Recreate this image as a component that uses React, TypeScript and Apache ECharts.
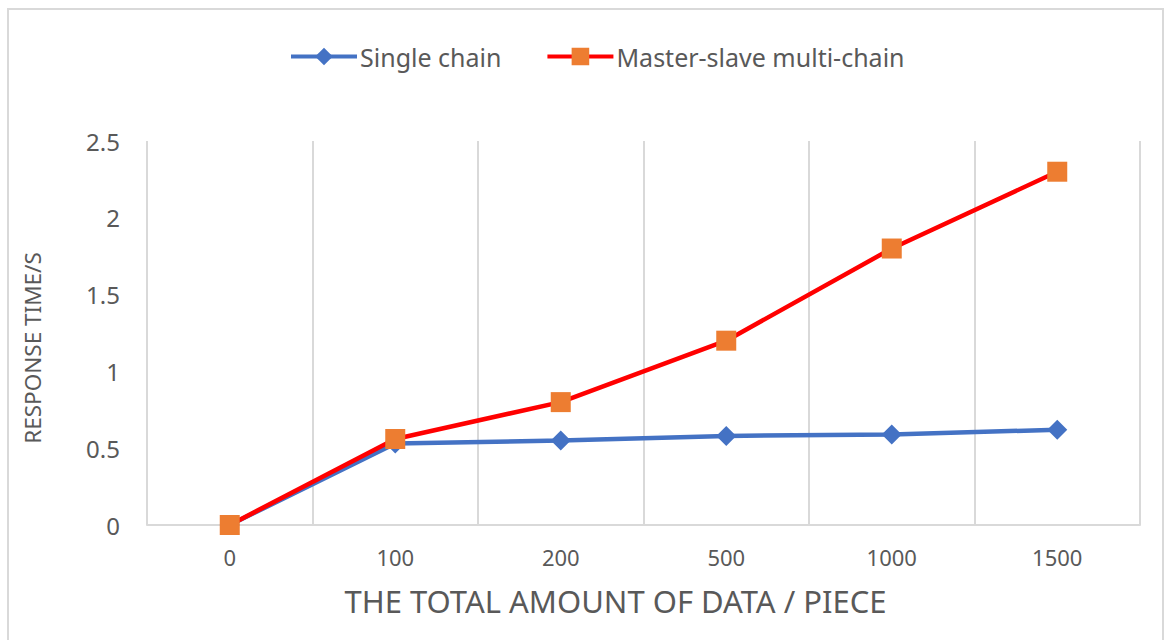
import React, { useEffect, useRef } from "react";
import * as echarts from "echarts";

const categories = ["0", "100", "200", "500", "1000", "1500"];
const singleChain = [0, 0.53, 0.55, 0.58, 0.59, 0.62];
const masterSlave = [0, 0.56, 0.8, 1.2, 1.8, 2.3];
const seriesNames = ["Single chain", "Master-slave multi-chain"];
const xTitle = "THE TOTAL AMOUNT OF DATA / PIECE";
const yTitle = "RESPONSE TIME/S";

const FONT = "'Noto Sans', 'Open Sans', sans-serif";
const TXT = "#595959";

export default function App() {
  const ref = useRef<HTMLDivElement>(null);
  useEffect(() => {
    document.body.style.margin = "0";
    const chart = echarts.init(ref.current!, null, { renderer: "svg" });
    chart.setOption({
      animation: false,
      backgroundColor: "#ffffff",
      textStyle: { fontFamily: FONT, color: TXT },
      graphic: [
        {
          type: "rect",
          shape: { x: 8, y: 9, width: 1155, height: 700 },
          style: { fill: "none", stroke: "#d9d9d9", lineWidth: 2 },
          silent: true,
        },
      ],
      legend: {
        left: 289,
        top: 44,
        padding: 0,
        itemWidth: 66,
        itemHeight: 22,
        itemGap: 44,
        lineStyle: { width: 4 },
        textStyle: { fontFamily: FONT, fontSize: 25, color: TXT, padding: [0, 0, 0, -2] },
        data: seriesNames,
      },
      grid: { left: 147, right: 31, top: 141, bottom: 115, containLabel: false },
      xAxis: {
        type: "category",
        data: categories,
        boundaryGap: true,
        name: xTitle,
        nameLocation: "middle",
        nameGap: 60,
        nameTextStyle: { fontFamily: FONT, fontSize: 31, color: TXT, padding: [0, 56, 0, 0] },
        axisLine: { show: true, lineStyle: { color: "#d9d9d9", width: 2 } },
        axisTick: { show: false },
        axisLabel: { fontFamily: FONT, fontSize: 22, color: TXT, margin: 21 },
        splitLine: { show: true, lineStyle: { color: "#d9d9d9", width: 2 } },
      },
      yAxis: {
        type: "value",
        min: 0,
        max: 2.5,
        interval: 0.5,
        name: yTitle,
        nameLocation: "middle",
        nameGap: 103,
        nameTextStyle: { fontFamily: FONT, fontSize: 22.5, color: TXT, padding: [0, 30, 0, 0] },
        axisLine: { show: false },
        axisTick: { show: false },
        splitLine: { show: false },
        axisLabel: { fontFamily: FONT, fontSize: 24, color: TXT, margin: 27 },
      },
      series: [
        {
          name: seriesNames[0],
          type: "line",
          data: singleChain,
          symbol: "diamond",
          symbolSize: 20,
          lineStyle: { color: "#4472C4", width: 4.5 },
          itemStyle: { color: "#4472C4" },
          z: 2,
        },
        {
          name: seriesNames[1],
          type: "line",
          data: masterSlave,
          symbol: "rect",
          symbolSize: 20,
          lineStyle: { color: "#FF0000", width: 4.5 },
          itemStyle: { color: "#ED7D31" },
          z: 3,
        },
      ],
    });
    return () => chart.dispose();
  }, []);
  return <div ref={ref} style={{ width: 1171, height: 640 }} />;
}
